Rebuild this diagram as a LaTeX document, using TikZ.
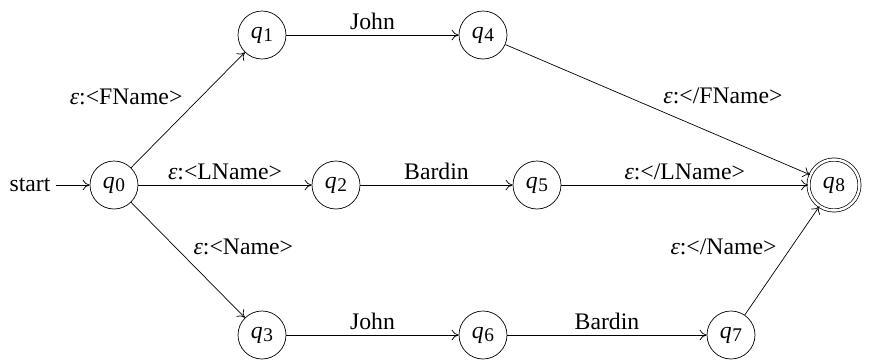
\documentclass[tikz,border=0pt]{standalone}
\usepackage{fontspec}
\setmainfont{Liberation Serif}
\usetikzlibrary{arrows.meta}
\newcommand{\st}[1]{\textit{q}\kern0.3pt\raisebox{-0.35ex}{\fontsize{11}{12}\selectfont #1}}
\newcommand{\eps}{\textit{ε}}
\begin{document}
\begin{tikzpicture}[x=0.02cm,y=-0.02cm,
  state/.style={draw,circle,minimum size=0.96cm,inner sep=0pt,font=\fontsize{13.5}{16}\selectfont},
  accept/.style={state,double,double distance=1.4pt,minimum size=1.02cm},
  tr/.style={->,>={To[length=4pt,width=6pt]}},
  lab/.style={font=\fontsize{13.5}{16}\selectfont,inner sep=3pt}]
\useasboundingbox (0,0) rectangle (870,363);
\node[state] (q0) at (114,185) {\st{0}};
\node[state] (q1) at (262,35) {\st{1}};
\node[state] (q4) at (483,35) {\st{4}};
\node[state] (q2) at (336,185) {\st{2}};
\node[state] (q5) at (537,185) {\st{5}};
\node[accept] (q8) at (834,185) {\st{8}};
\node[state] (q3) at (262,335) {\st{3}};
\node[state] (q6) at (483,335) {\st{6}};
\node[state] (q7) at (731,335) {\st{7}};
\node[lab,anchor=east] (start) at (56,185) {start};
\draw[tr] (start) -- (q0);
\draw[tr] (q0) -- node[lab,above left] {\eps:<FName>} (q1);
\draw[tr] (q0) -- node[lab,above] {\eps:<LName>} (q2);
\draw[tr] (q0) -- node[lab,above right] {\eps:<Name>} (q3);
\draw[tr] (q1) -- node[lab,above] {John} (q4);
\draw[tr] (q2) -- node[lab,above] {Bardin} (q5);
\draw[tr] (q3) -- node[lab,above] {John} (q6);
\draw[tr] (q6) -- node[lab,above] {Bardin} (q7);
\draw[tr] (q4) -- node[lab,above right] {\eps:</FName>} (q8);
\draw[tr] (q5) -- node[lab,above] {\eps:</LName>} (q8);
\draw[tr] (q7) -- node[lab,above left] {\eps:</Name>} (q8);
\end{tikzpicture}
\end{document}
